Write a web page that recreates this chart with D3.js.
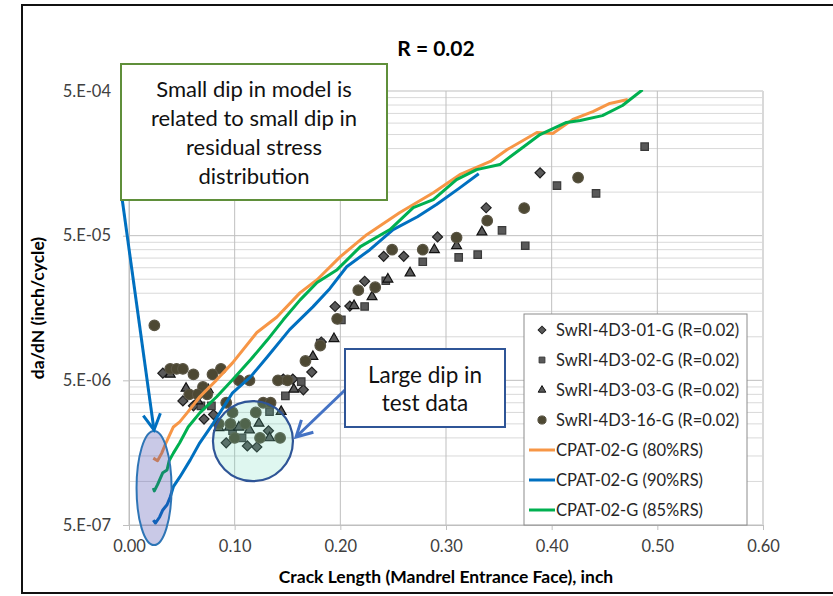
<!DOCTYPE html>
<html>
<head>
<meta charset="utf-8">
<script src="https://cdn.jsdelivr.net/npm/d3@7"></script>
<style>
  body { margin: 0; background: #fff; }
  svg { display: block; }
  text { font-family: Lato, "Open Sans", sans-serif; }
</style>
</head>
<body>
<svg id="chart" width="833" height="596"></svg>
<script>
// test data
var swri01X = [0.032,0.051,0.061,0.071,0.080,0.092,0.112,0.121,0.132,0.146,0.155,0.165,0.173,0.182,0.195,0.209,0.223,0.241,0.260,0.292,0.338,0.389]
var swri01Y = [5.6e-6,3.6e-6,3.33e-6,2.7e-6,2.9e-6,1.85e-6,1.76e-6,1.73e-6,2.24e-6,5.1e-6,5.1e-6,4.3e-6,5.7e-6,9.2e-6,1.62e-5,1.63e-5,2.42e-5,3.6e-5,3.6e-5,4.9e-5,7.8e-5,1.36e-4]

var swri02X = [0.068,0.078,0.098,0.107,0.133,0.148,0.163,0.181,0.201,0.223,0.243,0.278,0.312,0.330,0.353,0.375,0.405,0.442,0.488]
var swri02Y = [3.33e-6,3.33e-6,2.24e-6,2.0e-6,3.04e-6,3.9e-6,4.9e-6,9.05e-6,1.31e-5,1.62e-5,2.44e-5,3.3e-5,3.54e-5,3.7e-5,5.44e-5,4.26e-5,1.11e-4,9.8e-5,2.06e-4]

var swri03X = [0.039,0.054,0.065,0.075,0.085,0.095,0.104,0.114,0.123,0.133,0.144,0.156,0.174,0.194,0.213,0.230,0.245,0.266,0.289,0.310,0.334]
var swri03Y = [5.5e-6,4.4e-6,3.6e-6,4.3e-6,2.35e-6,2.37e-6,2.37e-6,2.27e-6,2.52e-6,2.0e-6,3.04e-6,4.33e-6,7.3e-6,9.7e-6,1.64e-5,1.89e-5,2.5e-5,2.76e-5,4.0e-5,4.26e-5,5.3e-5]

var swri16X = [0.024,0.039,0.045,0.051,0.087,0.061,0.079,0.104,0.114,0.141,0.150,0.070,0.057,0.065,0.074,0.092,0.127,0.134,0.098,0.120,0.085,0.096,0.110,0.100,0.124,0.143,0.167,0.181,0.197,0.217,0.233,0.249,0.278,0.310,0.339,0.374,0.425]
var swri16Y = [1.2e-5,6e-6,6e-6,6e-6,6e-6,5.5e-6,5.5e-6,5e-6,5e-6,5e-6,5e-6,4.5e-6,4e-6,4e-6,4e-6,3.5e-6,3.5e-6,3.5e-6,3e-6,3e-6,2.5e-6,2.5e-6,2.5e-6,2e-6,2e-6,2e-6,6.8e-6,8.7e-6,1.33e-5,2.1e-5,2.2e-5,4e-5,4e-5,4.85e-5,6.35e-5,7.75e-5,1.26e-4]

// model curves
var cpat80X = [0.023,0.027,0.031,0.035,0.042,0.048,0.055,0.067,0.083,0.098,0.121,0.140,0.162,0.178,0.200,0.225,0.256,0.288,0.313,0.342,0.358,0.386,0.401,0.420,0.439,0.455,0.472]
var cpat80Y = [1.45e-6,1.39e-6,1.57e-6,1.85e-6,2.38e-6,2.58e-6,2.98e-6,3.85e-6,5.04e-6,6.6e-6,1.07e-5,1.37e-5,2.02e-5,2.48e-5,3.58e-5,5.08e-5,7.2e-5,9.9e-5,1.32e-4,1.63e-4,1.97e-4,2.58e-4,2.54e-4,3.18e-4,3.6e-4,4.1e-4,4.37e-4]

var cpat90X = [0.023,0.025,0.029,0.032,0.036,0.039,0.042,0.048,0.058,0.067,0.080,0.098,0.115,0.131,0.152,0.174,0.190,0.206,0.228,0.250,0.273,0.291,0.313,0.331]
var cpat90Y = [5.4e-7,5.16e-7,5.68e-7,6.35e-7,6.9e-7,7.8e-7,9.2e-7,1.07e-6,1.41e-6,1.85e-6,2.54e-6,4.1e-6,5.28e-6,7.28e-6,1.12e-5,1.61e-5,2.15e-5,3.05e-5,4.0e-5,5.51e-5,6.76e-5,8.2e-5,1.07e-4,1.34e-4]

var cpat85X = [0.023,0.024,0.027,0.032,0.036,0.038,0.042,0.048,0.056,0.067,0.083,0.098,0.115,0.131,0.146,0.162,0.178,0.197,0.219,0.247,0.269,0.288,0.310,0.329,0.351,0.370,0.389,0.414,0.427,0.448,0.467,0.486]
var cpat85Y = [9.0e-7,8.6e-7,9.5e-7,1.15e-6,1.2e-6,1.39e-6,1.57e-6,1.85e-6,2.38e-6,2.98e-6,3.85e-6,5.04e-6,6.93e-6,9.53e-6,1.31e-5,1.8e-5,2.37e-5,2.91e-5,4.2e-5,5.51e-5,7.82e-5,8.87e-5,1.22e-4,1.43e-4,1.55e-4,1.97e-4,2.5e-4,3.03e-4,3.13e-4,3.38e-4,3.97e-4,5.1e-4]

var xTicks = [0,0.1,0.2,0.3,0.4,0.5,0.6]
var yTicks = [5e-7,5e-6,5e-5,5e-4]
var yTickLabels = ["5.E-07","5.E-06","5.E-05","5.E-04"]

var legendNames = ["SwRI-4D3-01-G (R=0.02)","SwRI-4D3-02-G (R=0.02)","SwRI-4D3-03-G (R=0.02)","SwRI-4D3-16-G (R=0.02)",
                   "CPAT-02-G (80%RS)","CPAT-02-G (90%RS)","CPAT-02-G (85%RS)"]

var svg = d3.select("#chart")
var pl = 129, pr = 763, pt = 91, pb = 525

var x = d3.scaleLinear().domain([0, 0.6]).range([pl, pr])
var y = d3.scaleLog().domain([5e-7, 5e-4]).range([pb, pt])

// chart frame
svg.append("rect")
    .attr("x", 22).attr("y", 5)
    .attr("width", 840).attr("height", 588)
    .attr("fill", "#fff")
    .attr("stroke", "#111").attr("stroke-width", 2)

svg.append("text")
    .attr("x", 436).attr("y", 56)
    .attr("text-anchor", "middle")
    .attr("font-size", 21).attr("font-weight", "bold")
    .text("R = 0.02")

// minor horizontal gridlines (0.5 steps inside each decade)
var yMinor = []
yTicks.slice(0, 3).forEach(function(b) {
    for (var k = 2; k <= 9; k++) yMinor.push(b * k)
})
svg.append("g").selectAll("line")
    .data(yMinor)
    .enter().append("line")
    .attr("x1", pl).attr("x2", pr)
    .attr("y1", function(d) { return y(d) }).attr("y2", function(d) { return y(d) })
    .attr("stroke", "#d9d9d9").attr("stroke-width", 1)

svg.append("g").selectAll("line")
    .data(yTicks)
    .enter().append("line")
    .attr("x1", pl).attr("x2", pr)
    .attr("y1", function(d) { return y(d) }).attr("y2", function(d) { return y(d) })
    .attr("stroke", "#bfbfbf").attr("stroke-width", 1)

svg.append("g").selectAll("line")
    .data(xTicks)
    .enter().append("line")
    .attr("x1", function(d) { return x(d) }).attr("x2", function(d) { return x(d) })
    .attr("y1", pt).attr("y2", pb)
    .attr("stroke", function(d) { return d == 0.6 ? "#d9d9d9" : "#bfbfbf" })
    .attr("stroke-width", function(d) { return d == 0.6 ? 2 : 1 })

// axes
var xAxis = svg.append("g")
    .attr("transform", "translate(0," + pb + ")")
    .call(d3.axisBottom(x).tickValues(xTicks).tickFormat(d3.format(".2f")).tickSize(5).tickSizeOuter(0))
var yAxis = svg.append("g")
    .attr("transform", "translate(" + pl + ",0)")
    .call(d3.axisLeft(y).tickValues(yTicks).tickFormat(function(d, i) { return yTickLabels[i] }).tickSize(6).tickSizeOuter(0))
;[xAxis, yAxis].forEach(function(a) {
    a.select(".domain").attr("stroke", "#bfbfbf")
    a.selectAll(".tick line").attr("stroke", "#bfbfbf")
    a.selectAll(".tick text")
        .attr("font-family", "Lato, 'Open Sans', sans-serif")
        .attr("font-size", 16.5).attr("fill", "#404040")
})
xAxis.selectAll(".tick text").attr("dy", "1.15em")
yAxis.selectAll(".tick text").attr("dx", -9)

svg.append("text")
    .attr("x", 446).attr("y", 583)
    .attr("text-anchor", "middle")
    .attr("font-size", 17.5).attr("font-weight", "bold")
    .text("Crack Length (Mandrel Entrance Face), inch")

svg.append("text")
    .attr("transform", "translate(44,308) rotate(-90)")
    .attr("text-anchor", "middle")
    .attr("font-size", 17.5).attr("font-weight", "bold")
    .text("da/dN (inch/cycle)")

svg.append("clipPath").attr("id", "plotClip")
    .append("rect").attr("x", pl).attr("y", pt - 1)
    .attr("width", pr - pl).attr("height", pb - pt + 1)

var plot = svg.append("g").attr("clip-path", "url(#plotClip)")

var markerDefs = [
    { xs: swri01X, ys: swri01Y, sym: d3.symbolSquare, size: 50, rot: 45, fill: "#595959", stroke: "#1f1f1f" },
    { xs: swri02X, ys: swri02Y, sym: d3.symbolSquare, size: 56, rot: 0, fill: "#595959", stroke: "#3a3a3a" },
    { xs: swri03X, ys: swri03Y, sym: d3.symbolTriangle, size: 42, rot: 0, fill: "#595959", stroke: "#111" },
    { xs: swri16X, ys: swri16Y, sym: d3.symbolCircle, size: 88, rot: 0, fill: "#4d4833", stroke: "#5a5544" }
]
var lineDefs = [
    { xs: cpat80X, ys: cpat80Y, color: "#f79646" },
    { xs: cpat90X, ys: cpat90Y, color: "#0070c0" },
    { xs: cpat85X, ys: cpat85Y, color: "#00b050" }
]

markerDefs.forEach(function(s) {
    plot.append("g").selectAll("path")
        .data(d3.zip(s.xs, s.ys))
        .enter().append("path")
        .attr("d", d3.symbol().type(s.sym).size(s.size))
        .attr("transform", function(d) { return "translate(" + x(d[0]) + "," + y(d[1]) + ") rotate(" + s.rot + ")" })
        .attr("fill", s.fill)
        .attr("stroke", s.stroke).attr("stroke-width", 1.2)
})

var line = d3.line()
    .x(function(d) { return x(d[0]) })
    .y(function(d) { return y(d[1]) })

lineDefs.forEach(function(s) {
    plot.append("path")
        .datum(d3.zip(s.xs, s.ys))
        .attr("d", line)
        .attr("fill", "none")
        .attr("stroke", s.color).attr("stroke-width", 3)
        .attr("stroke-linejoin", "round")
})

// legend
var lg = svg.append("g")
lg.append("rect")
    .attr("x", 524).attr("y", 314).attr("width", 223).attr("height", 211)
    .attr("fill", "#fff").attr("stroke", "#8c8c8c").attr("stroke-width", 1)
legendNames.forEach(function(name, i) {
    var cy = 330 + i * 30
    if (i < 4) {
        var s = markerDefs[i]
        lg.append("path")
            .attr("d", d3.symbol().type(s.sym).size(s.size * 0.6))
            .attr("transform", "translate(542," + cy + ") rotate(" + s.rot + ")")
            .attr("fill", s.fill).attr("stroke", s.stroke).attr("stroke-width", 1)
    } else {
        lg.append("line")
            .attr("x1", 529).attr("x2", 555).attr("y1", cy).attr("y2", cy)
            .attr("stroke", lineDefs[i - 4].color).attr("stroke-width", 3)
    }
    lg.append("text").attr("x", 556).attr("y", cy + 6)
        .attr("font-size", 16.5).attr("fill", "#262626").text(name)
})

// annotations
var ann = svg.append("g")

ann.append("ellipse")
    .attr("cx", x(0.0237)).attr("cy", y(9e-7))
    .attr("rx", 17.5).attr("ry", 57)
    .attr("fill", "rgba(60,60,170,0.28)")
    .attr("stroke", "#2e75b6").attr("stroke-width", 2)

ann.append("circle")
    .attr("cx", x(0.1173)).attr("cy", y(1.9e-6))
    .attr("r", 40)
    .attr("fill", "rgba(95,215,180,0.2)")
    .attr("stroke", "#2f5597").attr("stroke-width", 2.2)

function arrow(x1, y1, x2, y2, color) {
    var a = Math.atan2(y2 - y1, x2 - x1), len = 18, spread = 0.5
    ann.append("line")
        .attr("x1", x1).attr("y1", y1).attr("x2", x2).attr("y2", y2)
        .attr("stroke", color).attr("stroke-width", 3)
    ann.append("path")
        .attr("d", "M" + (x2 - len * Math.cos(a - spread)) + "," + (y2 - len * Math.sin(a - spread)) +
                   "L" + x2 + "," + y2 +
                   "L" + (x2 - len * Math.cos(a + spread)) + "," + (y2 - len * Math.sin(a + spread)))
        .attr("fill", "none").attr("stroke", color).attr("stroke-width", 3)
        .attr("stroke-linejoin", "miter")
}
arrow(122, 198, 154, 430, "#0070c0")
arrow(345, 390, 296, 437, "#4472c4")

ann.append("rect")
    .attr("x", 121).attr("y", 64).attr("width", 266).attr("height", 136)
    .attr("fill", "#fff").attr("stroke", "#5f8f3a").attr("stroke-width", 2)
var note1 = ["Small dip in model is", "related to small dip in", "residual stress", "distribution"]
note1.forEach(function(t, i) {
    ann.append("text").attr("x", 254).attr("y", 97 + i * 29)
        .attr("text-anchor", "middle").attr("font-size", 22).attr("fill", "#111").text(t)
})

ann.append("rect")
    .attr("x", 345).attr("y", 349).attr("width", 160).attr("height", 78)
    .attr("fill", "#fff").attr("stroke", "#2f5597").attr("stroke-width", 2)
var note2 = ["Large dip in", "test data"]
note2.forEach(function(t, i) {
    ann.append("text").attr("x", 425).attr("y", 383 + i * 28)
        .attr("text-anchor", "middle").attr("font-size", 22.5).attr("fill", "#111").text(t)
})
</script>
</body>
</html>
